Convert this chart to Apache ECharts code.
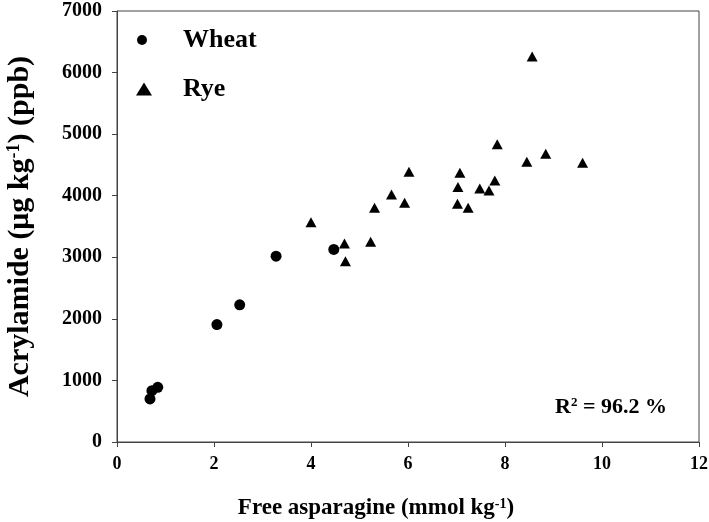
<!DOCTYPE html>
<html>
<head>
<meta charset="utf-8">
<script src="https://cdn.jsdelivr.net/npm/echarts@6/dist/echarts.min.js"></script>
<style>
  html, body { margin: 0; padding: 0; background: #fff; }
  #chart { width: 709px; height: 522px; }
</style>
</head>
<body>
<div id="chart"></div>
<script>
// values
const wheatX = [0.68, 0.72, 0.84, 2.06, 2.53, 3.28, 4.47];
const wheatY = [699, 834, 888, 1907, 2228, 3018, 3127];

const ryeX = [4.0, 4.69, 4.71, 5.23, 5.31, 5.66, 5.93, 6.02, 7.07, 7.03, 7.02, 7.24, 7.48, 7.67, 7.79, 7.84, 8.45, 8.56, 8.84, 9.60];
const ryeY = [3571, 3225, 2937, 3252, 3805, 4021, 3886, 4390, 4374, 4140, 3870, 3805, 4119, 4086, 4249, 4834, 4553, 6260, 4683, 4537];

const xTicks = [0, 2, 4, 6, 8, 10, 12];
const yTicks = [0, 1000, 2000, 3000, 4000, 5000, 6000, 7000];

const FONT = "'Liberation Serif', 'Times New Roman', serif";

const pairs = (xs, ys) => xs.map((x, i) => [x, ys[i]]);

const chart = echarts.init(document.getElementById("chart"));

function titleRich(size) {
  return {
    t: { fontSize: size, fontWeight: "bold", fontFamily: FONT, color: "#000" },
    s: { fontSize: Math.round(size * 0.6), fontWeight: "bold", fontFamily: FONT, color: "#000", verticalAlign: "top" },
  };
}

const legendText = { fontSize: 26, fontWeight: "bold", fontFamily: FONT, color: "#000", lineHeight: 26 };

const option = {
  animation: false,
  backgroundColor: "#fff",
  grid: {
    left: 117,
    right: 10,
    top: 11,
    bottom: 80,
    outerBoundsMode: "none",
    containLabel: false,
    show: true,
    borderColor: "#444",
    borderWidth: 1,
  },
  legend: [
    {
      data: ["Wheat"],
      left: 132,
      top: 22,
      itemWidth: 10,
      itemHeight: 10,
      textStyle: Object.assign({}, legendText, { padding: [0, 0, 0, 31] }),
    },
    {
      data: ["Rye"],
      left: 131,
      top: 71,
      itemWidth: 16,
      itemHeight: 13,
      textStyle: Object.assign({}, legendText, { padding: [0, 0, 0, 26] }),
    },
  ],
  xAxis: {
    type: "value",
    min: xTicks[0],
    max: xTicks[xTicks.length - 1],
    interval: 2,
    name: "{t|Free asparagine (mmol kg}{s|-1}{t|)}",
    nameLocation: "middle",
    nameGap: 55,
    nameTextStyle: { rich: titleRich(23), padding: [0, 64, 0, 0] },
    axisLine: { lineStyle: { color: "#444", width: 1 } },
    axisTick: { show: true, length: 5, lineStyle: { color: "#444" } },
    axisLabel: { fontSize: 18, fontWeight: "bold", fontFamily: FONT, color: "#000", margin: 13 },
    splitLine: { show: false },
  },
  yAxis: {
    type: "value",
    min: yTicks[0],
    max: yTicks[yTicks.length - 1],
    interval: 1000,
    name: "{t|Acrylamide (μg kg}{s|-1}{t|) (ppb)}",
    nameLocation: "middle",
    nameRotate: 90,
    nameGap: 82,
    nameTextStyle: { rich: titleRich(30) },
    axisLine: { show: true, lineStyle: { color: "#444", width: 1 } },
    axisTick: { show: true, length: 5, lineStyle: { color: "#444" } },
    axisLabel: {
      fontSize: 20, fontWeight: "bold", fontFamily: FONT, color: "#000", margin: 15,
      formatter: (v) => String(v),
    },
    splitLine: { show: false },
  },
  graphic: [
    {
      type: "text",
      left: 555,
      top: 396,
      style: {
        text: "{t|R}{s|2}{t| = 96.2 %}",
        rich: {
          t: { fontSize: 22, fontWeight: "bold", fontFamily: FONT, fill: "#000" },
          s: { fontSize: 13, fontWeight: "bold", fontFamily: FONT, fill: "#000", verticalAlign: "top" },
        },
      },
    },
  ],
  series: [
    {
      name: "Wheat",
      type: "scatter",
      symbol: "circle",
      symbolSize: 11,
      itemStyle: { color: "#000", opacity: 1 },
      data: pairs(wheatX, wheatY),
    },
    {
      name: "Rye",
      type: "scatter",
      symbol: "triangle",
      symbolSize: [11, 10],
      itemStyle: { color: "#000", opacity: 1 },
      data: pairs(ryeX, ryeY),
    },
  ],
};

chart.setOption(option);
</script>
</body>
</html>
